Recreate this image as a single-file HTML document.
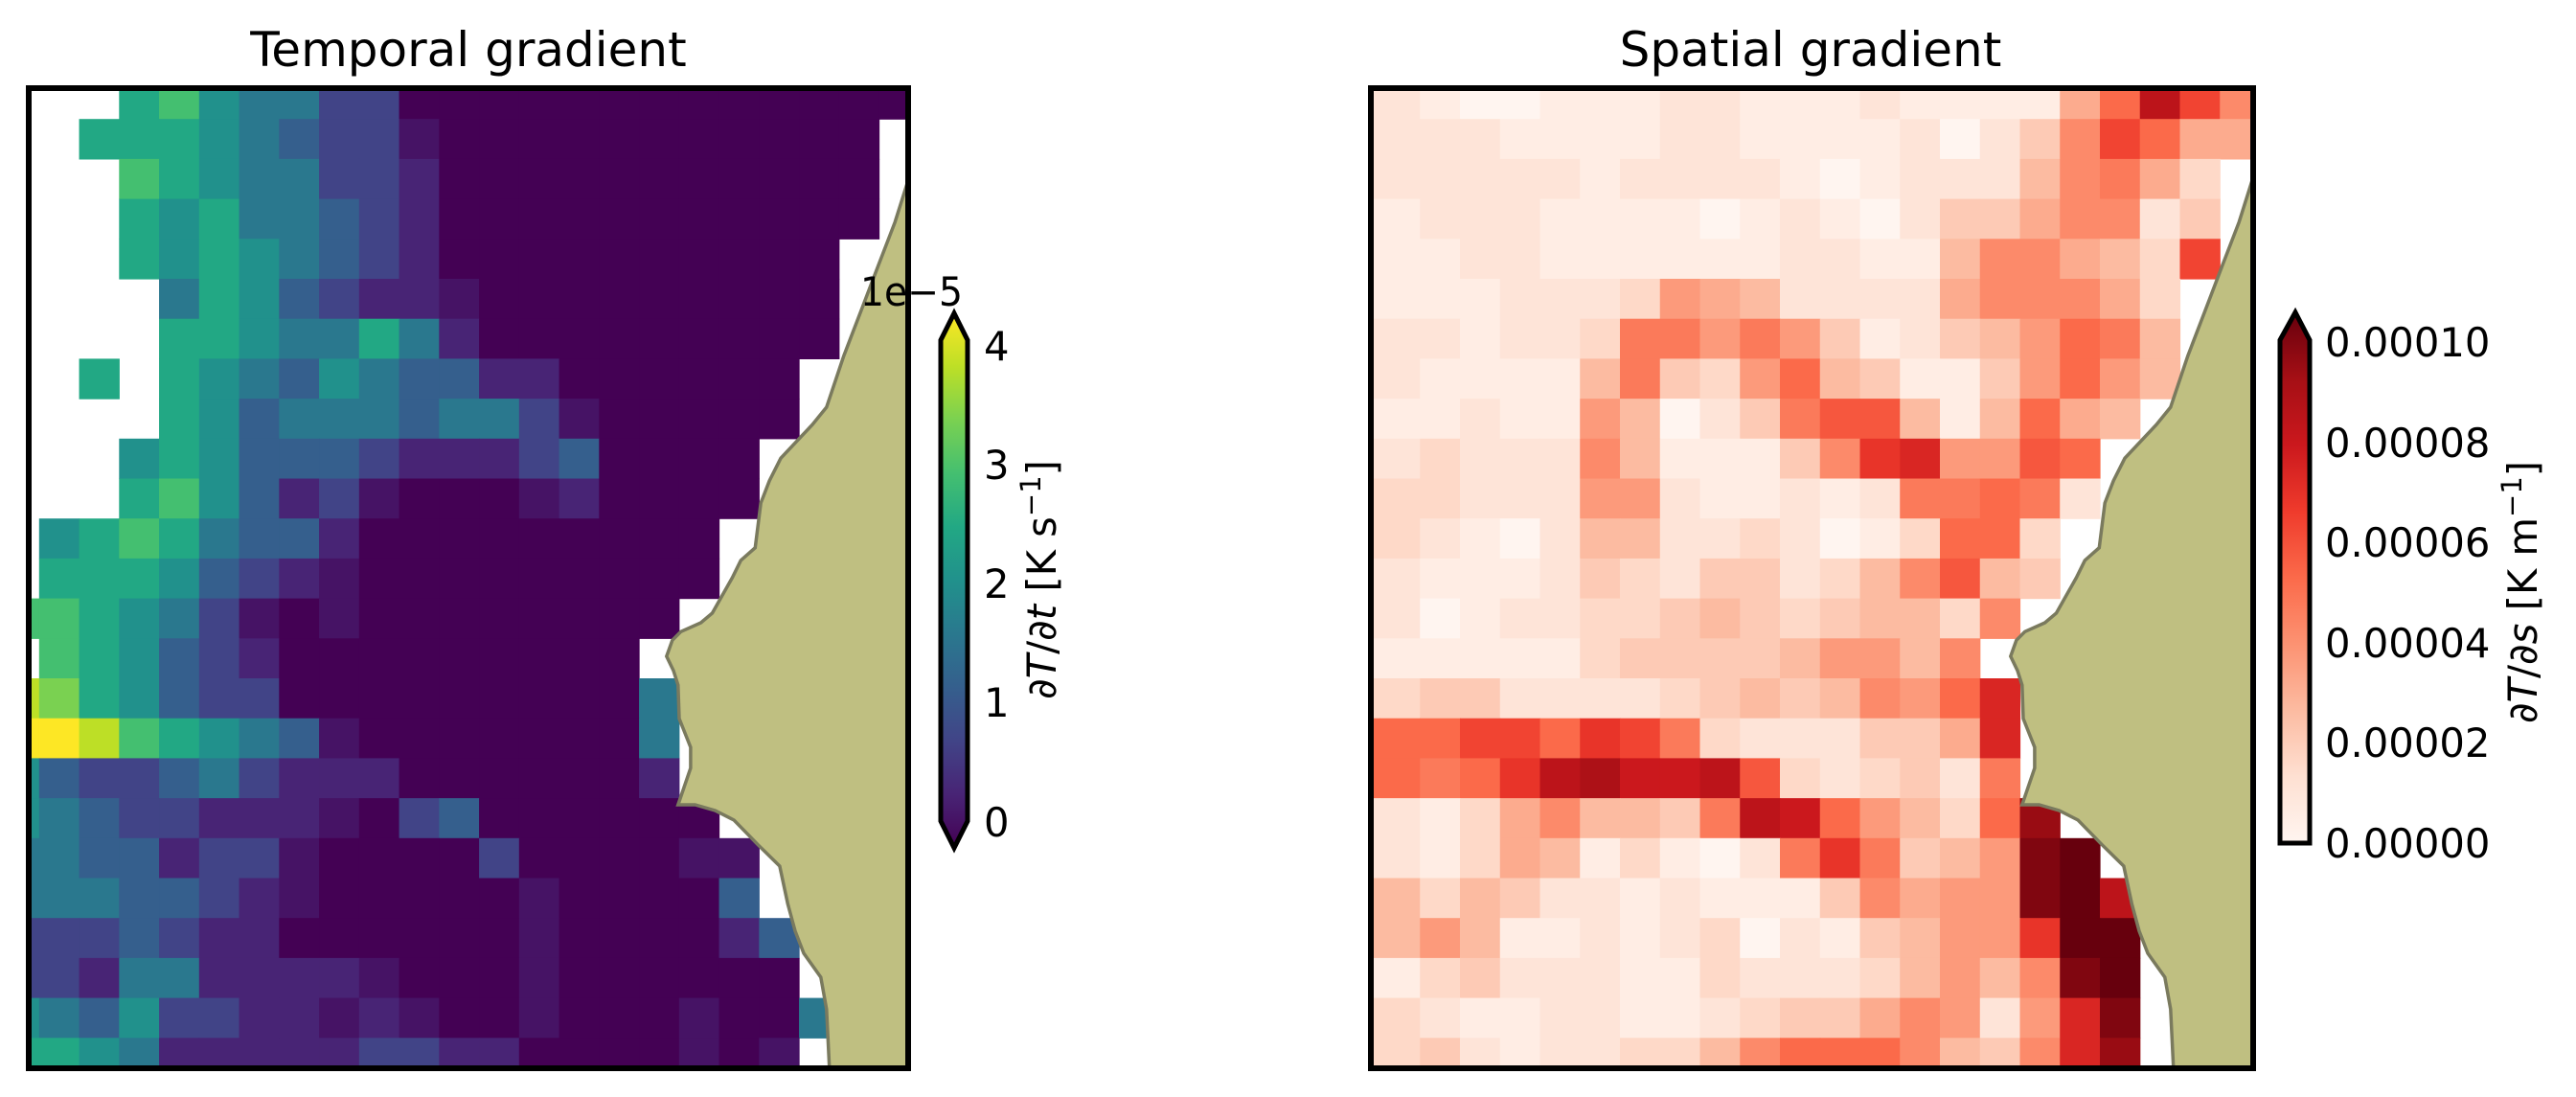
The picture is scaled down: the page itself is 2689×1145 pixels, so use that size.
<!DOCTYPE html>
<html><head><meta charset="utf-8"><style>
html,body{margin:0;padding:0;background:#fff;}
svg{display:block;}
text{font-family:"DejaVu Sans","Liberation Sans",sans-serif;fill:#000;}
</style></head><body>
<svg id="s" width="2689" height="1145" viewBox="0 0 2689 1145" xmlns="http://www.w3.org/2000/svg">
<defs>
<clipPath id="cl"><rect x="30" y="92" width="918" height="1023"/></clipPath>
<clipPath id="cr"><rect x="1431" y="92" width="921" height="1023"/></clipPath>
<linearGradient id="gv" x1="0" y1="1" x2="0" y2="0">
<stop offset="0" stop-color="#440154"/><stop offset="0.1" stop-color="#482475"/><stop offset="0.2" stop-color="#414487"/><stop offset="0.3" stop-color="#355f8d"/><stop offset="0.4" stop-color="#2a788e"/><stop offset="0.5" stop-color="#21918c"/><stop offset="0.6" stop-color="#22a884"/><stop offset="0.7" stop-color="#44bf70"/><stop offset="0.8" stop-color="#7ad151"/><stop offset="0.9" stop-color="#bddf26"/><stop offset="1" stop-color="#fde725"/>
</linearGradient>
<linearGradient id="gr" x1="0" y1="1" x2="0" y2="0">
<stop offset="0" stop-color="#fff5f0"/><stop offset="0.125" stop-color="#fee0d2"/><stop offset="0.25" stop-color="#fcbba1"/><stop offset="0.375" stop-color="#fc9272"/><stop offset="0.5" stop-color="#fb6a4a"/><stop offset="0.625" stop-color="#ef3b2c"/><stop offset="0.75" stop-color="#cb181d"/><stop offset="0.875" stop-color="#a50f15"/><stop offset="1" stop-color="#67000d"/>
</linearGradient>
</defs>
<g id="gl" clip-path="url(#cl)"></g>
<g id="grr" clip-path="url(#cr)"></g>
<rect x="30" y="92" width="918" height="1023" fill="none" stroke="#000" stroke-width="6"/>
<rect x="1431" y="92" width="921" height="1023" fill="none" stroke="#000" stroke-width="6"/>
<text x="489" y="69" font-size="50" text-anchor="middle">Temporal gradient</text>
<text x="1890" y="69" font-size="50" text-anchor="middle">Spatial gradient</text>
<!-- left colorbar -->
<path d="M996,327 L1010,355 L1010,857 L996,885 L982,857 L982,355 Z" fill="url(#gv)" stroke="#000" stroke-width="5"/>
<g font-size="41.7">
<text x="1027" y="376">4</text><text x="1027" y="500">3</text><text x="1027" y="624">2</text><text x="1027" y="748">1</text><text x="1027" y="873">0</text>
<text x="898" y="319" textLength="107" lengthAdjust="spacingAndGlyphs">1e−5</text>
<text transform="translate(1102,605) rotate(-90)" text-anchor="middle">∂<tspan font-style="italic">T</tspan>/∂<tspan font-style="italic">t</tspan> [K s<tspan dy="-16" font-size="29">−1</tspan><tspan dy="16">]</tspan></text>
</g>
<!-- right colorbar -->
<path d="M2380,355 L2396,326 L2411,355 L2411,880 L2380,880 Z" fill="url(#gr)" stroke="#000" stroke-width="5"/>
<g font-size="41.7">
<text x="2427" y="372">0.00010</text><text x="2427" y="477">0.00008</text><text x="2427" y="581">0.00006</text><text x="2427" y="686">0.00004</text><text x="2427" y="790">0.00002</text><text x="2427" y="895">0.00000</text>
<text transform="translate(2648,618) rotate(-90)" text-anchor="middle">∂<tspan font-style="italic">T</tspan>/∂<tspan font-style="italic">s</tspan> [K m<tspan dy="-16" font-size="29">−1</tspan><tspan dy="16">]</tspan></text>
</g>
</svg>
<script>
(function(){
var NS="http://www.w3.org/2000/svg";
function lv(ch){if(ch>='0'&&ch<='9')return (+ch)/10;if(ch==='A')return 1;var c=ch.charCodeAt(0)-97;return 0.05+c*0.1;}
function hex(h){return [parseInt(h.substr(1,2),16),parseInt(h.substr(3,2),16),parseInt(h.substr(5,2),16)];}
function cmap(stops,v){var n=stops.length-1;var p=v*n;var i=Math.min(Math.floor(p),n-1);var f=p-i;var a=hex(stops[i]),b=hex(stops[i+1]);return "rgb("+a.map(function(x,k){return Math.round(x+(b[k]-x)*f)}).join(",")+")";}
var VIR=["#440154","#482475","#414487","#355f8d","#2a788e","#21918c","#22a884","#44bf70","#7ad151","#bddf26","#fde725"];
var RED=["#fff5f0","#fee0d2","#fcbba1","#fc9272","#fb6a4a","#ef3b2c","#cb181d","#a50f15","#67000d"];
var L=[
"...6754422"+"0000000000000",
"..66654322a"+"00000000000"+".",
"...76544221"+"00000000000"+".",
"...65644321"+"00000000000"+".",
"...65654321"+"0000000000"+"..",
"....4653211a"+"000000000"+"..",
"....66544641"+"000000000"+"..",
"..6.6543543311"+"000000"+"...",
"...."+"6534443442a"+"00000"+"...",
"..."+"565333211123"+"0000"+"....",
"..."+"675312a000a1"+"0000"+"....",
"."+"56764331"+"000000000"+".....",
"."+"6665321a"+"000000000"+".....",
"7"+"76542a0a"+"00000000"+"......",
"."+"765321"+"000000000"+".......",
"9"+"865322"+"000000000"+"4"+"......",
"A"+"A976543a"+"0000000"+"4"+"......",
"5"+"322342111"+"000000"+"1"+"......",
"5"+"4322111a023"+"000000"+".....",
"4"+"433122a000020000aa"+"....",
"4"+"443321a00000a00003"+"....",
"2"+"2232110"+"00000"+"a"+"0000"+"13"+"...",
"2"+"21441111a"+"000"+"a"+"000000"+"...",
"5"+"4352211a1a00a000a004"+"..",
"6"+"654111112211"+"0000"+"a0a"+"..."
];
var R=[
"1a00aaa11aaa1aaaa35864",
"111aaaa11aaaa101246533",
"11111a1111a0a111c4e3b.",
"a111aaaa0a1a012234412.",
"aa11aaaaaa11aac443cb6.",
"aaa111bd3c111134443b..",
"11a11beeded2a12cd5ec..",
"1aaaace2bd5c2aa2d5dc..",
"aa1aadc012effcac53c...",
"1b1114caaa24g7ddf5....",
"bb111dd1aa1a1ee5e1....",
"b1a01cc11b10ab55b.....",
"1aaa12b1221bc4fc2.....",
"10a11bb2c2b2ccb4......",
"aaaaab2222cddc4.......",
"b221111b2c2c4d57......",
"55665g6eb1112237......",
"5e5g8ihh8fb1b21e......",
"1ab34cc2e8h5dcb59.....",
"1ab3caba01ege2cdjA....",
"cbc211a1aaa243ddjA8...",
"cdcaa1a1b01a2cddgAA...",
"ab2111aab111bcdc4jA...",
"b1aa11aa1b2234d1d7j...",
"b21a11bbc45554c2479..."
];
var P=41.75, RP=41.7, Y0=124.2;
function draw(g,rows,x0,stops,pre){
  for(var r=0;r<rows.length;r++){
    var s=rows[r]; if(pre) s=s[0]+s;
    var y=Y0+(r-1)*RP;
    for(var c=0;c<s.length;c++){
      var ch=s[c]; if(ch==='.')continue;
      var x=x0+(c-1)*P;
      var e=document.createElementNS(NS,"rect");
      e.setAttribute("x",x.toFixed(2));e.setAttribute("y",y.toFixed(2));
      e.setAttribute("width",(P+0.6).toFixed(2));e.setAttribute("height",(RP+0.6).toFixed(2));
      e.setAttribute("fill",cmap(stops,lv(ch)));
      g.appendChild(e);
    }
  }
}
var gl=document.getElementById("gl"), gr=document.getElementById("grr");
draw(gl,L,40.8,VIR,false);
draw(gr,R,1440.5,RED,true);
var pts=[[2352,92],[2352,185],[2337.3,231.7],[2319.4,278.3],[2301.6,325],[2283.7,371.7],[2265.8,425],[2250.9,443.3],[2218,478.3],[2206.2,501.7],[2197.2,525],[2191.3,571.7],[2176.3,585],[2167.4,603],[2146.5,640],[2134.6,650],[2113.7,659.3],[2104.8,668.3],[2098.8,685],[2106,700],[2110.8,715],[2112,750],[2123.9,780],[2123.9,801.7],[2110.8,840],[2128.6,840],[2149.5,846],[2169.2,856],[2194.2,881.7],[2216.9,904],[2225.3,943.3],[2233,971.7],[2242,995],[2259.8,1020],[2265.8,1053.3],[2268.8,1115],[2352,1115]];
function land(g,dx){
  var d=pts.map(function(p,i){return (i?"L":"M")+(p[0]+dx).toFixed(1)+","+p[1];}).join(" ")+" Z";
  var e=document.createElementNS(NS,"path");
  e.setAttribute("d",d);e.setAttribute("fill","#bfbf81");e.setAttribute("stroke","#7a7a5e");e.setAttribute("stroke-width","3.5");
  g.appendChild(e);
}
land(gr,0); land(gl,-1403);
})();
</script>
</body></html>
